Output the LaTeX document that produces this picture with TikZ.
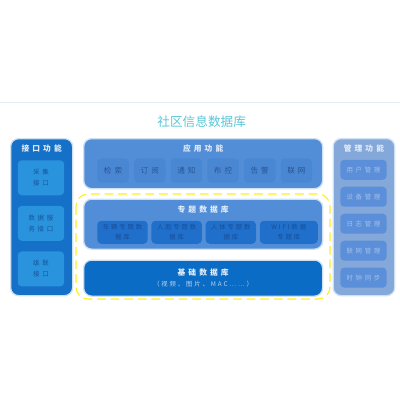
\documentclass[tikz,border=0pt]{standalone}
\usepackage{fontspec}
\newfontfamily\cjk{Noto Sans CJK SC}
\newfontfamily\cjkwide{Noto Sans CJK SC}[LetterSpace=40]
\usetikzlibrary{positioning}
\definecolor{bgline}{HTML}{E4ECF6}
\definecolor{headtxt}{HTML}{5CC6D6}
\definecolor{glow}{HTML}{CFE0F5}
\definecolor{ifacebg}{HTML}{1570C8}
\definecolor{ifacecell}{HTML}{2A93DD}
\definecolor{ifacetxt}{HTML}{17559A}
\definecolor{appbg}{HTML}{528ED8}
\definecolor{appcell}{HTML}{4A87D3}
\definecolor{apptxt}{HTML}{275594}
\definecolor{topiccell}{HTML}{1F6FCB}
\definecolor{topictxt}{HTML}{194E96}
\definecolor{basebg}{HTML}{0B6CC5}
\definecolor{mgmtbg}{HTML}{84A8DA}
\definecolor{mgmtcell}{HTML}{5B8FD9}
\definecolor{mgmttxt}{HTML}{A3C1E8}
\definecolor{titletxt}{HTML}{E2EBF7}
\definecolor{dashline}{HTML}{FFEE22}
\begin{document}
\begin{tikzpicture}[x=0.25mm, y=-0.25mm,
    panel/.style={draw=glow, line width=0.9pt, rounded corners=2mm,
      anchor=north west, inner sep=0pt},
    ptitle/.style={font=\cjkwide\fontsize{5.5pt}{6pt}\selectfont\bfseries, text=titletxt},
    cell/.style={rounded corners=1mm, inner sep=0pt, align=center, anchor=north west},
    icell/.style={cell, fill=ifacecell, text=ifacetxt, minimum width=11.6mm,
      minimum height=8.75mm, font=\cjkwide\fontsize{4.6pt}{8pt}\selectfont},
    acell/.style={cell, fill=appcell, text=apptxt, minimum width=7.9mm,
      minimum height=6.1mm, font=\cjkwide\fontsize{5.4pt}{6pt}\selectfont},
    tcell/.style={cell, fill=topiccell, text=topictxt, minimum width=12.6mm,
      minimum height=5.75mm, font=\cjk\fontsize{4.5pt}{7pt}\selectfont\addfontfeature{LetterSpace=30}},
    mcell/.style={cell, fill=mgmtcell, text=mgmttxt, minimum width=11.6mm,
      minimum height=5mm, font=\cjkwide\fontsize{4.6pt}{6pt}\selectfont},
    zone/.style={draw=dashline, line width=0.8pt, dashed, dash pattern=on 2.2mm off 1.2mm,
      rounded corners=3mm}
  ]
  \useasboundingbox (0,0) rectangle (400,400);
  \draw[bgline, line width=0.5pt] (0,102) -- (400,102);

  % title
  \node[font=\cjk\fontsize{9pt}{10pt}\selectfont, text=headtxt] (head) at (201.7,121.5)
    {社区信息数据库};

  % interface column
  \node[panel, fill=ifacebg, minimum width=15.5mm, minimum height=39.25mm] (iface) at (10,138) {};
  \node[ptitle] at ([yshift=-2.6mm]iface.north) {接口功能};
  \node[icell] (i1) at (17.5,160) {采集\\接口};
  \node[icell, below=2.5mm of i1] (i2) {数据服\\务接口};
  \node[icell, below=2.5mm of i2] (i3) {级联\\接口};

  % applications
  \node[panel, fill=appbg, minimum width=59.75mm, minimum height=12.5mm] (app) at (83,138) {};
  \node[ptitle] at ([yshift=-2.6mm]app.north) {应用功能};
  \node[acell] (a1) at (97,158) {检索};
  \node[acell, right=1.125mm of a1] (a2) {订阅};
  \node[acell, right=1.125mm of a2] (a3) {通知};
  \node[acell, right=1.125mm of a3] (a4) {布控};
  \node[acell, right=1.125mm of a4] (a5) {告警};
  \node[acell, right=1.125mm of a5] (a6) {联网};

  % data zone
  \draw[zone] (76,194) rectangle (330,299);

  \node[panel, fill=appbg, minimum width=59.75mm, minimum height=12.5mm] (topic) at (83,198.5) {};
  \node[ptitle] at ([yshift=-2.7mm]topic.north) {专题数据库};
  \node[tcell] (t1) at (97,220.5) {车辆专题数\\据库};
  \node[tcell, right=0.8mm of t1] (t2) {人脸专题数\\据库};
  \node[tcell, right=0.8mm of t2] (t3) {人体专题数\\据库};
  \node[tcell, right=0.8mm of t3, minimum width=14.5mm] (t4) {WIFI数据\\专题库};

  \node[panel, fill=basebg, minimum width=59.75mm, minimum height=9mm] (base) at (83,259.5) {};
  \node[ptitle] at ([yshift=-3.3mm]base.north) {基础数据库};
  \node[font=\cjk\fontsize{4.5pt}{6pt}\selectfont\addfontfeature{LetterSpace=30}, text=mgmttxt!70!white]
    at ([yshift=-6.2mm]base.north) {（视频、图片、MAC……）};

  % management column
  \node[panel, fill=mgmtbg, minimum width=15.4mm, minimum height=39.25mm] (mgmt) at (332.5,138) {};
  \node[ptitle] at ([yshift=-2.6mm]mgmt.north) {管理功能};
  \node[mcell] (m1) at (340,159.5) {用户管理};
  \node[mcell, below=1.6mm of m1] (m2) {设备管理};
  \node[mcell, below=1.6mm of m2] (m3) {日志管理};
  \node[mcell, below=1.6mm of m3] (m4) {联网管理};
  \node[mcell, below=1.6mm of m4] (m5) {时钟同步};
\end{tikzpicture}
\end{document}
